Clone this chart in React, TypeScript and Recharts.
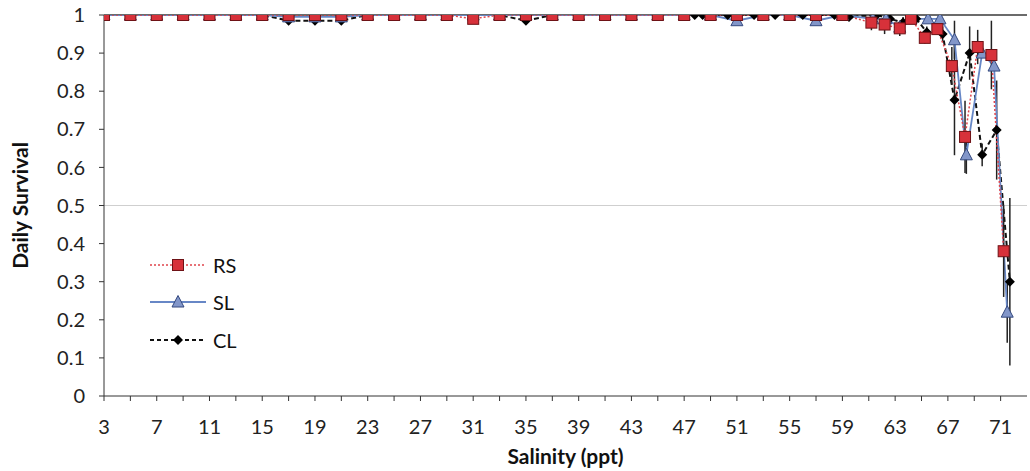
import React from "react";
import { LineChart, Line, XAxis, YAxis, ErrorBar, ReferenceLine } from "recharts";

// salinity (ppt) and daily survival
const rsX = [3, 5, 7, 9, 11, 13, 15, 17, 19, 21, 23, 25, 27, 29, 31, 33, 35, 37, 39, 41, 43, 45, 47, 49, 51, 53, 55, 57, 59, 61.2, 62.2, 63.35, 64.2, 65.25, 66.2, 67.3, 68.3, 69.26, 70.3, 71.23];
const rsY = [1, 1, 1, 1, 1, 1, 1, 1, 1, 1, 1, 1, 1, 1, 0.99, 1, 1, 1, 1, 1, 1, 1, 1, 1, 1, 1, 1, 1, 1, 0.98, 0.975, 0.965, 0.99, 0.94, 0.963, 0.866, 0.68, 0.916, 0.895, 0.38];
const rsErr = [0, 0, 0, 0, 0, 0, 0, 0, 0, 0, 0, 0, 0, 0, 0, 0, 0, 0, 0, 0, 0, 0, 0, 0, 0, 0, 0, 0, 0, 0.02, 0.025, 0.02, 0, 0.015, 0, 0.05, 0.095, 0.045, 0.09, 0.12];

const slX = [3, 5, 7, 9, 11, 13, 15, 17, 19, 21, 23, 25, 27, 29, 31, 33, 35, 37, 39, 41, 43, 45, 47, 49, 51, 53, 55, 57, 59, 61.3, 62.3, 63.35, 64.2, 65.5, 66.4, 67.5, 68.4, 69.6, 70.5, 71.5];
const slY = [1, 1, 1, 1, 1, 1, 1, 0.995, 0.995, 0.995, 1, 1, 1, 1, 1, 1, 1, 1, 1, 1, 1, 1, 1, 1, 0.985, 1, 1, 0.985, 1, 0.99, 0.99, 0.968, 0.99, 0.99, 0.99, 0.935, 0.633, 0.9, 0.866, 0.22];
const slErr = [0, 0, 0, 0, 0, 0, 0, 0, 0, 0, 0, 0, 0, 0, 0, 0, 0, 0, 0, 0, 0, 0, 0, 0, 0, 0, 0, 0, 0, 0, 0, 0, 0, 0, 0, 0.05, 0.05, 0, 0, 0.08];

const clX = [3, 5, 7, 9, 11, 13, 15, 17, 19, 21, 23, 25, 27, 29, 31, 33, 35, 37, 39, 41, 43, 45, 47, 47.8, 48.4, 49, 50.3, 51, 52.3, 53, 53.9, 55, 56, 57, 58.4, 59.5, 61.6, 62.6, 63.6, 64.6, 65.4, 66.6, 67.5, 68.65, 69.6, 70.7, 71.7];
const clY = [1, 1, 1, 1, 1, 1, 1, 0.985, 0.985, 0.985, 1, 1, 1, 1, 1, 1, 0.985, 1, 1, 1, 1, 1, 1, 1, 1, 1, 1, 1, 1, 1, 1, 1, 1, 1, 1, 0.995, 1, 0.99, 0.98, 0.99, 0.955, 0.95, 0.777, 0.9, 0.633, 0.698, 0.3];
const clErr = [0, 0, 0, 0, 0, 0, 0, 0, 0, 0, 0, 0, 0, 0, 0, 0, 0, 0, 0, 0, 0, 0, 0, 0, 0, 0, 0, 0, 0, 0, 0, 0, 0, 0, 0, 0, 0, 0, 0.015, 0, 0.015, 0.02, 0.145, 0.07, 0.03, 0.13, 0.22];

const xTicks = [3, 5, 7, 9, 11, 13, 15, 17, 19, 21, 23, 25, 27, 29, 31, 33, 35, 37, 39, 41, 43, 45, 47, 49, 51, 53, 55, 57, 59, 61, 63, 65, 67, 69, 71];
const yTicks = [0, 0.1, 0.2, 0.3, 0.4, 0.5, 0.6, 0.7, 0.8, 0.9, 1];

const toRows = (xs: number[], ys: number[], errs: number[]) =>
  xs.map((x, i) => ({ x, y: ys[i], err: errs[i] }));

const rsData = toRows(rsX, rsY, rsErr);
const slData = toRows(slX, slY, slErr);
const clData = toRows(clX, clY, clErr);

const FONT = "Lato, 'Open Sans', sans-serif";
const RS_LINE = "#e0444c";
const SL_LINE = "#6787c6";
const CL_LINE = "#111111";

const square = (cx: number, cy: number, key?: string | number) => (
  <rect key={key} x={cx - 5.5} y={cy - 5.5} width={11} height={11} fill="#d7313a" stroke="#6e1216" strokeWidth={1} />
);
const triangle = (cx: number, cy: number, key?: string | number) => (
  <path key={key} d={`M${cx},${cy - 6.5} L${cx + 6},${cy + 5} L${cx - 6},${cy + 5} Z`} fill="#8296c9" stroke="#34497f" strokeWidth={1} />
);
const diamond = (cx: number, cy: number, key?: string | number) => (
  <path key={key} d={`M${cx},${cy - 5} L${cx + 5},${cy} L${cx},${cy + 5} L${cx - 5},${cy} Z`} fill="#000" />
);

const dotOf = (fn: typeof square) => (p: any) => fn(p.cx, p.cy, p.index);

const legendItems = [
  { name: "RS", color: RS_LINE, dash: "2 2", width: 1.5, mark: square },
  { name: "SL", color: SL_LINE, dash: undefined, width: 1.8, mark: triangle },
  { name: "CL", color: CL_LINE, dash: "4 3", width: 1.8, mark: diamond },
];

export default function App() {
  return (
    <div style={{ position: "fixed", left: 0, top: 0, width: 1030, height: 471, background: "#fff" }}>
      <LineChart width={1030} height={471} margin={{ top: 15, right: 3, bottom: 0, left: 0 }}>
        <XAxis
          type="number"
          dataKey="x"
          domain={[3, 73]}
          allowDataOverflow
          ticks={xTicks}
          interval={0}
          tickFormatter={(v: number) => ((v - 3) % 4 === 0 ? String(v) : "")}
          height={75}
          tickSize={5}
          tickMargin={19}
          stroke="#333"
          tick={{ fill: "#222", fontSize: 20, fontFamily: FONT }}
          label={{ value: "Salinity (ppt)", position: "insideBottom", offset: 7, fill: "#111", fontSize: 21, fontWeight: 700, fontFamily: FONT }}
        />
        <YAxis
          type="number"
          domain={[0, 1]}
          allowDataOverflow
          ticks={yTicks}
          interval={0}
          tickFormatter={(v: number) => (v === 0 || v === 1 ? String(v) : v.toFixed(1))}
          width={104}
          tickSize={5}
          tickMargin={14}
          stroke="#333"
          tick={{ fill: "#222", fontSize: 20, fontFamily: FONT }}
          label={{ value: "Daily Survival", angle: -90, position: "center", dx: -31, fill: "#111", fontSize: 21, fontWeight: 700, fontFamily: FONT }}
        />
        <ReferenceLine y={0.5} stroke="#cfcfcf" strokeWidth={1} />
        <ReferenceLine y={1} stroke="#3a3a3a" strokeWidth={1.5} />
        <Line data={clData} dataKey="y" type="linear" stroke={CL_LINE} strokeWidth={2} strokeDasharray="5 3" dot={dotOf(diamond)} activeDot={false} isAnimationActive={false}>
          <ErrorBar dataKey="err" direction="y" width={0} stroke="#222" strokeWidth={1.5} />
        </Line>
        <Line data={slData} dataKey="y" type="linear" stroke={SL_LINE} strokeWidth={1.8} dot={dotOf(triangle)} activeDot={false} isAnimationActive={false}>
          <ErrorBar dataKey="err" direction="y" width={0} stroke="#222" strokeWidth={1.5} />
        </Line>
        <Line data={rsData} dataKey="y" type="linear" stroke={RS_LINE} strokeWidth={1.5} strokeDasharray="2 2" dot={dotOf(square)} activeDot={false} isAnimationActive={false}>
          <ErrorBar dataKey="err" direction="y" width={0} stroke="#222" strokeWidth={1.5} />
        </Line>
      </LineChart>
      <div style={{ position: "absolute", left: 148, top: 246, fontFamily: FONT, fontSize: 20, color: "#111" }}>
        {legendItems.map((it) => (
          <div key={it.name} style={{ height: 37.5, display: "flex", alignItems: "center" }}>
            <svg width={60} height={16}>
              <line x1={2} y1={8} x2={58} y2={8} stroke={it.color} strokeWidth={it.width} strokeDasharray={it.dash} />
              {it.mark(30, 8)}
            </svg>
            <span style={{ marginLeft: 5 }}>{it.name}</span>
          </div>
        ))}
      </div>
    </div>
  );
}
